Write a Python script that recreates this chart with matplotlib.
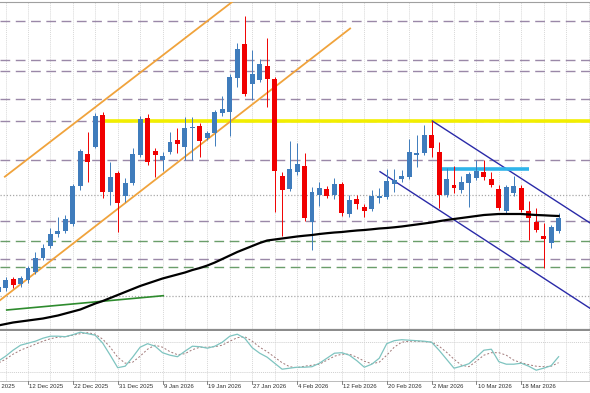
import matplotlib.pyplot as plt
import numpy as np

# daily bars, index 0 = 12 Dec 2025 (first bar in the list is index -4)
first_bar = -4
opens = [3080, 3120, 3210, 3160, 3200, 3280, 3420, 3540, 3660, 3690, 3760, 4140, 4460, 4530,
         4850, 4080, 4270, 4040, 4170, 4450, 4820, 4490, 4400, 4480, 4600, 4530, 4725, 4740,
         4620, 4670, 4870, 4880, 5220, 5560, 5160, 5200, 5340, 5210, 4240, 4110, 4280, 4340,
         3780, 4050, 4110, 4050, 4160, 3860, 4010, 3930, 3910, 4025, 4030, 4160, 4210, 4230,
         4455, 4470, 4650, 4480, 4050, 4150, 4100, 4170, 4220, 4280, 4210, 4110, 3890, 4070,
         4120, 3890, 3780, 3640, 3570, 3690]
closes = [3130, 3200, 3150, 3220, 3320, 3420, 3520, 3660, 3690, 3810, 4140, 4490, 4380, 4840,
          4080, 4230, 3970, 4170, 4460, 4810, 4380, 4450, 4440, 4580, 4560, 4720, 4735, 4590,
          4670, 4880, 4910, 5230, 5510, 5060, 5260, 5360, 5210, 4290, 4100, 4310, 4360, 3820,
          4080, 4120, 4040, 4160, 3870, 4000, 3960, 3890, 4040, 4040, 4190, 4200, 4240, 4480,
          4475, 4650, 4520, 4050, 4210, 4120, 4180, 4260, 4290, 4230, 4150, 3920, 4130, 4140,
          3900, 3820, 3700, 3615, 3730, 3820]
highs = [3160, 3230, 3230, 3240, 3340, 3480, 3560, 3720, 3830, 3850, 4160, 4510, 4680, 4870,
         4880, 4380, 4290, 4220, 4520, 4840, 4860, 4520, 4480, 4680, 4720, 4830, 4830, 4770,
         4690, 4900, 5040, 5260, 5570, 5840, 5500, 5410, 5620, 5230, 4280, 4590, 4570, 4470,
         4130, 4180, 4140, 4220, 4180, 4050, 4050, 3960, 4100, 4120, 4310, 4310, 4300, 4610,
         4650, 4750, 4790, 4580, 4320, 4340, 4240, 4280, 4400, 4400, 4280, 4150, 4150, 4240,
         4150, 3990, 3920, 3770, 3750, 3870]
lows = [3040, 3090, 3120, 3130, 3170, 3260, 3400, 3520, 3630, 3670, 3740, 4100, 4180, 4520,
        4020, 3950, 3680, 3980, 4150, 4430, 4350, 4230, 4290, 4460, 4470, 4400, 4400, 4430,
        4600, 4540, 4840, 4640, 5130, 5040, 5000, 5180, 4930, 3880, 3640, 4090, 4250, 3790,
        3500, 3940, 4020, 4010, 3840, 3830, 3910, 3830, 3890, 3970, 4010, 4080, 4180, 4210,
        4330, 4450, 4430, 3920, 4030, 4070, 4070, 3930, 4200, 4200, 4130, 3900, 3870, 4040,
        3880, 3600, 3680, 3320, 3520, 3670]

ma_values = [2745, 2760, 2775, 2785, 2795, 2805, 2815, 2830, 2845, 2865, 2885, 2905, 2935, 2965,
             2990, 3020, 3050, 3080, 3110, 3140, 3165, 3190, 3215, 3235, 3255, 3275, 3300, 3320,
             3345, 3375, 3410, 3445, 3480, 3510, 3540, 3570, 3595, 3605, 3615, 3625, 3635, 3643,
             3650, 3660, 3668, 3675, 3680, 3688, 3695, 3700, 3707, 3715, 3720, 3727, 3735, 3745,
             3755, 3765, 3775, 3788, 3800, 3810, 3820, 3830, 3840, 3850, 3855, 3860, 3860, 3860,
             3860, 3855, 3850, 3847, 3843, 3840]

stoch_main = [41, 51, 63, 73, 77, 81, 87, 91, 91, 90, 94, 99, 96, 93, 77, 53, 28, 31, 49, 69,
              76, 71, 58, 53, 50, 61, 71, 70, 67, 71, 79, 91, 95, 87, 68, 57, 49, 37, 25, 27,
              29, 29, 30, 37, 47, 57, 58, 53, 42, 29, 35, 47, 76, 82, 84, 83, 82, 81, 79, 63,
              45, 27, 31, 36, 49, 63, 65, 40, 35, 35, 37, 31, 23, 27, 32, 50]
stoch_signal = [37, 45, 55, 63, 69, 75, 81, 86, 89, 90, 93, 96, 98, 95, 85, 69, 49, 37, 39, 51,
                65, 73, 69, 60, 54, 56, 64, 69, 69, 70, 73, 81, 88, 90, 81, 69, 60, 49, 38, 30,
                28, 31, 33, 35, 43, 51, 55, 55, 49, 41, 36, 39, 53, 69, 79, 81, 81, 80, 79, 71,
                59, 45, 33, 30, 41, 53, 58, 58, 53, 43, 38, 34, 31, 30, 31, 38]

date_ticks = [-6, 0, 6, 12, 18, 24, 30, 36, 42, 48, 54, 60, 66]
date_labels = ["4 Dec 2025", "12 Dec 2025", "22 Dec 2025", "31 Dec 2025", "9 Jan 2026",
               "19 Jan 2026", "27 Jan 2026", "4 Feb 2026", "12 Feb 2026", "20 Feb 2026",
               "2 Mar 2026", "10 Mar 2026", "18 Mar 2026"]

# chart objects (price levels and trendline anchors: bar, price)
purple_levels = [5790, 5400, 5290, 5010, 4790, 4400, 3790, 3410]
green_levels = [3590, 3330]
dotted_levels = [4050, 3040]
yellow_start, yellow_price = 10.2, 4790
cyan_start, cyan_end, cyan_price = 55.4, 67.1, 4310
orange_upper = [(-3.1, 4233), (28.4, 6043)]
orange_lower = [(-5.0, 2925), (43.1, 5715)]
navy_upper = [(54.1, 4790), (76.6, 3703)]
navy_lower = [(47.1, 4283), (76.6, 2849)]
green_trend = [(-2.85, 2900), (18.1, 3043)]

bull_col = "#3f7cbc"
bear_col = "#f00000"

fig = plt.figure(figsize=(5.9, 3.93), dpi=100)
H = 393.0
ax = fig.add_axes([0, 1 - 329.5 / H, 1, 328 / H])
osc = fig.add_axes([0, 1 - 381 / H, 1, 50 / H], sharex=ax)

x_lo, x_hi = -3.75, 75.2
ax.set_xlim(x_lo, x_hi)
ax.set_ylim(2705, 5985)
osc.set_ylim(1.4, 101.4)

# grid
for a in (ax, osc):
    for g in range(-3, 76, 3):
        a.axvline(g, color="#d8d8d8", lw=0.7, ls=(0, (1, 1)), zorder=0)
    a.set_xticks([])
    a.set_yticks([])
    for s in a.spines.values():
        s.set_visible(False)

ax.spines["top"].set_visible(True)
ax.spines["top"].set_color("#a0a0a0")
ax.spines["top"].set_linewidth(0.8)
ax.spines["bottom"].set_visible(True)
ax.spines["bottom"].set_color("#8c8c8c")
ax.spines["bottom"].set_linewidth(1.6)

# horizontal levels
for p in purple_levels:
    ax.axhline(p, color="#9a88a8", lw=1.0, ls=(0, (7, 4)), zorder=1)
for p in green_levels:
    ax.axhline(p, color="#6a9e6a", lw=1.0, ls=(0, (7, 4)), zorder=1)
for p in dotted_levels:
    ax.axhline(p, color="#a8a8a8", lw=0.9, ls=(0, (1, 1.5)), zorder=1)

ax.plot([yellow_start, x_hi + 1], [yellow_price, yellow_price], color="#f2ee00", lw=2.6, zorder=2,
        solid_capstyle="butt")
ax.plot([cyan_start, cyan_end], [cyan_price, cyan_price], color="#2fb4ea", lw=2.6, zorder=4,
        solid_capstyle="butt")

for line, col, lw in [(orange_upper, "#f0a33c", 1.3), (orange_lower, "#f0a33c", 1.3),
                      (navy_upper, "#2a2aa8", 1.0), (navy_lower, "#2a2aa8", 1.0),
                      (green_trend, "#2e8b2e", 1.2)]:
    xs, ys = zip(*line)
    ax.plot(xs, ys, color=col, lw=lw, zorder=3)

# candles
idx = np.arange(first_bar, first_bar + len(opens))
o = np.array(opens)
c = np.array(closes)
cols = [bull_col if cc >= oo else bear_col for oo, cc in zip(o, c)]
ax.vlines(idx, lows, highs, colors=cols, lw=0.7, zorder=4)
ax.bar(idx, np.abs(c - o), bottom=np.minimum(o, c), width=0.66, color=cols, zorder=5,
       linewidth=0)

ax.plot(idx, ma_values, color="black", lw=1.6, zorder=6)

# oscillator
for lvl in (20, 80):
    osc.axhline(lvl, color="#d0d0d0", lw=0.7, ls=(0, (1, 1)), zorder=0)
osc.plot(idx, stoch_main, color="#7ec4c0", lw=0.9, zorder=3)
osc.plot(idx, stoch_signal, color="#a07878", lw=0.7, ls=(0, (2, 2)), zorder=2)
osc.plot([x_lo, x_hi], [1.4, 1.4], color="#b0b0b0", lw=0.6, clip_on=False)

for t, lab in zip(date_ticks, date_labels):
    osc.plot([t, t], [1.4, -4.5], color="#707070", lw=0.6, clip_on=False)
    osc.text(t + 0.15, -10.5, lab, fontsize=4.3, family="Liberation Sans", color="#303030",
             ha="left", va="center", clip_on=False)

fig.savefig("out.png", dpi=100)
